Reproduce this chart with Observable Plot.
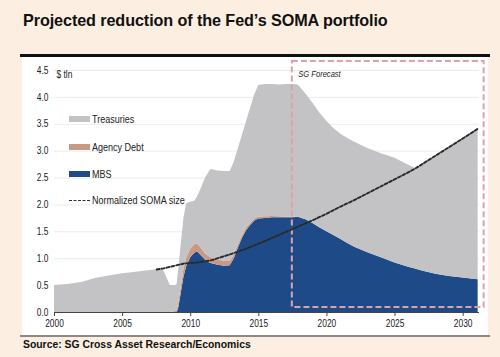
<!DOCTYPE html>
<html>
<head>
<meta charset="utf-8">
<script src="https://cdn.jsdelivr.net/npm/d3@7"></script>
<script src="https://cdn.jsdelivr.net/npm/@observablehq/plot@0.6"></script>
<style>
  html, body { margin: 0; padding: 0; }
  body { width: 500px; height: 357px; background: #fcefe1; position: relative; overflow: hidden;
         font-family: "Liberation Sans", Arial, sans-serif; }
  #title { position: absolute; left: 23px; top: 11px; font-size: 16.2px; font-weight: bold; color: #111; letter-spacing: -0.1px; }
  #rule { position: absolute; left: 20px; top: 54px; width: 470px; height: 3px; background: #111; }
  #chart { position: absolute; left: 22px; top: 57px; }
  #bottomrule { position: absolute; left: 20px; top: 335px; width: 470px; height: 1.5px; background: #8a8a8a; }
  #source { position: absolute; left: 23px; top: 339px; font-size: 10.4px; font-weight: bold; color: #111; }
  #legend { position: absolute; left: 69px; top: 112px; font-family: "Liberation Sans", Arial, sans-serif; font-size: 11px; color: #222; }
  .item { position: absolute; left: 0; height: 14px; white-space: nowrap; display: flex; align-items: center; }
  .sw { width: 21px; height: 6px; margin-right: 2px; flex: none; }
  .dash { width: 21px; height: 0; border-top: 1.6px dashed #333; margin-right: 2px; flex: none; }
  .lab { display: inline-block; transform: scaleX(0.82); transform-origin: left center; }
</style>
</head>
<body>
<div id="title">Projected reduction of the Fed’s SOMA portfolio</div>
<div id="rule"></div>
<div id="chart"></div>
<div id="legend"></div>
<div id="bottomrule"></div>
<div id="source">Source: SG Cross Asset Research/Economics</div>
<script>
// ---- data ----
const years = [2000, 2001, 2002, 2003, 2004, 2005, 2006, 2007, 2007.8, 2008.0, 2008.3, 2008.5, 2008.9, 2009.0, 2009.1, 2009.3, 2009.5, 2009.7, 2010.0, 2010.3, 2010.5, 2010.8, 2011.1, 2011.4, 2011.5, 2012.0, 2012.5, 2012.9, 2013.2, 2013.5, 2013.8, 2014.1, 2014.4, 2014.7, 2015.0, 2015.5, 2016.0, 2016.5, 2017.0, 2017.5, 2017.9, 2018.5, 2019.0, 2019.5, 2020.0, 2020.5, 2021.0, 2021.5, 2022.0, 2023.0, 2024.0, 2025.0, 2026.0, 2026.5, 2027.0, 2028.0, 2029.0, 2030.0, 2031.1];
const treasuries = [0.50, 0.52, 0.56, 0.63, 0.68, 0.72, 0.75, 0.78, 0.80, 0.79, 0.62, 0.50, 0.48, 0.48, 0.62, 0.78, 0.95, 1.01, 0.87, 0.81, 0.87, 1.13, 1.41, 1.60, 1.64, 1.65, 1.67, 1.67, 1.73, 1.79, 1.87, 1.98, 2.14, 2.31, 2.445, 2.46, 2.455, 2.45, 2.465, 2.47, 2.455, 2.33, 2.23, 2.13, 2.05, 1.99, 1.96, 1.95, 1.95, 1.94, 1.93, 1.95, 1.90, 1.87, 1.99, 2.21, 2.41, 2.60, 2.81];
const agencyDebt = [0, 0, 0, 0, 0, 0, 0, 0, 0, 0, 0, 0, 0.02, 0.04, 0.08, 0.12, 0.15, 0.16, 0.16, 0.16, 0.15, 0.14, 0.12, 0.11, 0.11, 0.10, 0.09, 0.08, 0.07, 0.06, 0.05, 0.05, 0.04, 0.04, 0.035, 0.03, 0.025, 0.02, 0.015, 0.01, 0.005, 0, 0, 0, 0, 0, 0, 0, 0, 0, 0, 0, 0, 0, 0, 0, 0, 0, 0];
const mbs = [0, 0, 0, 0, 0, 0, 0, 0, 0, 0, 0, 0, 0, 0, 0.05, 0.35, 0.65, 0.85, 1.02, 1.10, 1.13, 1.05, 0.97, 0.92, 0.91, 0.88, 0.86, 0.87, 1.00, 1.20, 1.38, 1.52, 1.62, 1.70, 1.74, 1.75, 1.76, 1.76, 1.76, 1.76, 1.77, 1.72, 1.65, 1.57, 1.50, 1.43, 1.36, 1.29, 1.22, 1.11, 1.02, 0.92, 0.84, 0.81, 0.77, 0.71, 0.67, 0.64, 0.61];

const normYears = [2007.5, 2008.0, 2008.5, 2009.0, 2009.5, 2010.0, 2010.5, 2011.0, 2011.5, 2012.0, 2013.0, 2014.0, 2015.0, 2016.0, 2017.0, 2018.0, 2019.0, 2020.0, 2021.0, 2022.0, 2023.0, 2024.0, 2025.0, 2026.0, 2026.5, 2027.0, 2028.0, 2029.0, 2030.0, 2031.1];
const normalizedSize = [0.80, 0.82, 0.85, 0.88, 0.91, 0.92, 0.93, 0.95, 0.97, 1.01, 1.09, 1.18, 1.28, 1.39, 1.50, 1.61, 1.72, 1.84, 1.97, 2.09, 2.22, 2.35, 2.48, 2.61, 2.68, 2.76, 2.92, 3.08, 3.24, 3.42];

const seriesNames = ["Treasuries", "Agency Debt", "MBS"];
const seriesColors = ["#c3c2c5", "#c89a86", "#1e4b88"];
const lineName = "Normalized SOMA size";
const xTicks = [2000, 2005, 2010, 2015, 2020, 2025, 2030];
const yTicks = [0, 0.5, 1.0, 1.5, 2.0, 2.5, 3.0, 3.5, 4.0, 4.5];
const unitLabel = "$ tln";
const forecastLabel = "SG Forecast";
const forecastStart = 2017.46;
const forecastEnd = 2031.54;

// ---- build tables ----
const valuesBySeries = {"Treasuries": treasuries, "Agency Debt": agencyDebt, "MBS": mbs};
const stackRows = [];
for (const name of ["MBS", "Agency Debt", "Treasuries"]) {
  years.forEach((yr, i) => stackRows.push({year: yr, series: name, value: valuesBySeries[name][i]}));
}
const normRows = normYears.map((yr, i) => ({year: yr, value: normalizedSize[i]}));

const chart = Plot.plot({
  width: 466,
  height: 278,
  marginLeft: 32,
  marginRight: 9,
  marginTop: 13,
  marginBottom: 23,
  style: {background: "white", fontFamily: '"Liberation Sans", Arial, sans-serif', fontSize: "10px", color: "#333", overflow: "visible"},
  x: {domain: [2000, 2031.2], label: null},
  y: {domain: [0, 4.5], label: null},
  color: {domain: seriesNames, range: seriesColors},
  marks: [
    Plot.gridY(yTicks, {stroke: "#ebebeb", strokeOpacity: 1, strokeWidth: 1}),
    Plot.areaY(stackRows, {x: "year", y: "value", fill: "series", order: ["MBS", "Agency Debt", "Treasuries"]}),
    Plot.rect([{x1: forecastStart, x2: forecastEnd}], {x1: "x1", x2: "x2", insetTop: -9, insetBottom: 5, fill: "none", stroke: "#dca2aa", strokeWidth: 2, strokeDasharray: "6,3"}),
    Plot.line(normRows, {x: "year", y: "value", stroke: "#2a2a2a", strokeWidth: 1.9, strokeDasharray: "3,2"}),
    Plot.ruleY([0], {stroke: "#444", strokeWidth: 1}),
    Plot.axisX({ticks: xTicks, tickFormat: d => String(d), tickSize: 4, tickPadding: 3, stroke: "#444", fill: "#222", label: null}),
    Plot.axisY({ticks: yTicks, tickFormat: d => d.toFixed(1), tickSize: 0, tickPadding: 6, fill: "#222", label: null}),
    Plot.text([unitLabel], {frameAnchor: "top-left", text: d => d, textAnchor: "start", dx: 2, fill: "#222"}),
    Plot.text([forecastLabel], {x: forecastStart, frameAnchor: "top", text: d => d, textAnchor: "start", dx: 6, fontStyle: "italic", fontSize: 9, fill: "#222"})
  ]
});
document.getElementById("chart").appendChild(chart);

// condense axis and annotation text (reference uses a narrow face)
chart.querySelectorAll('g[aria-label="x-axis tick label"] text, g[aria-label="y-axis tick label"] text, g[aria-label="text"] text').forEach(t => {
  const tr = t.getAttribute("transform") || "";
  t.setAttribute("transform", tr + " scale(0.84,1)");
});

// ---- legend ----
const legend = document.getElementById("legend");
const legendTops = [0, 28, 55, 81];
seriesNames.forEach((name, i) => {
  const it = document.createElement("div");
  it.className = "item";
  it.style.top = legendTops[i] + "px";
  it.innerHTML = `<span class="sw" style="background:${seriesColors[i]}"></span><span class="lab">${name}</span>`;
  legend.appendChild(it);
});
const li = document.createElement("div");
li.className = "item";
li.style.top = legendTops[3] + "px";
li.innerHTML = `<span class="dash"></span><span class="lab">${lineName}</span>`;
legend.appendChild(li);
</script>
</body>
</html>
